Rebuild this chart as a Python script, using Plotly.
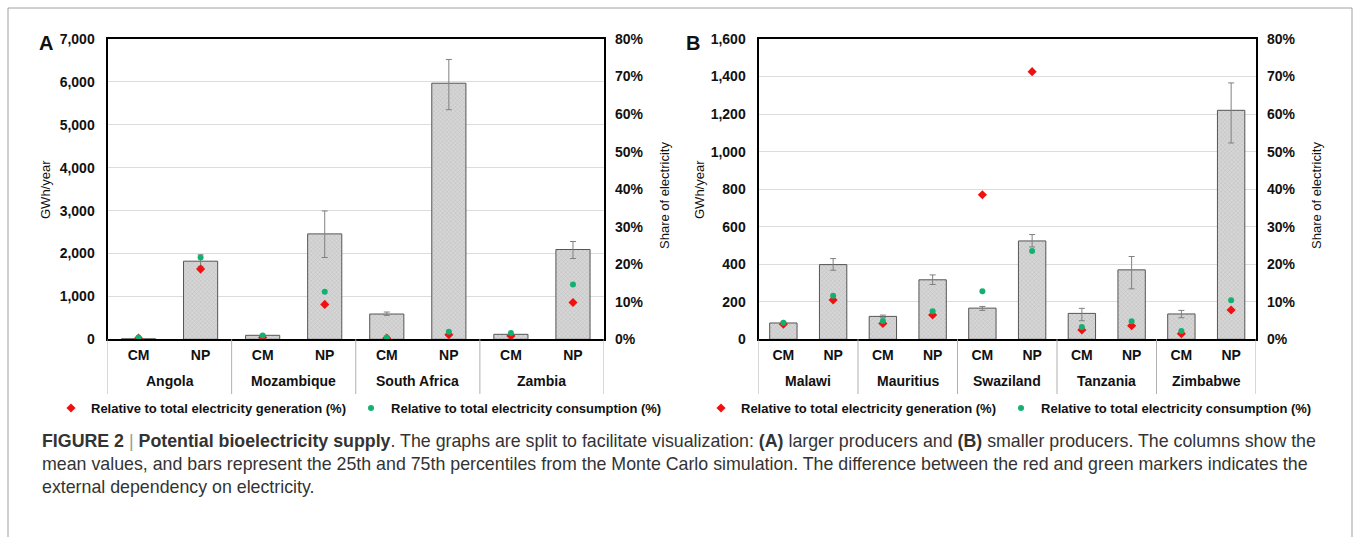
import plotly.graph_objects as go

# ---------------- data ----------------
countries_a = ["Angola", "Mozambique", "South Africa", "Zambia"]
countries_b = ["Malawi", "Mauritius", "Swaziland", "Tanzania", "Zimbabwe"]
types = ["CM", "NP"]

# Panel A (GWh/year): order CM, NP per country
mean_a = [12, 1821, 93, 2457, 589, 5969, 116, 2093]
p25_a = [8, 1700, 85, 1907, 558, 5352, 105, 1884]
p75_a = [16, 1970, 100, 2992, 636, 6523, 125, 2279]
gen_a = [0.3, 18.7, 0.5, 9.3, 0.3, 1.2, 0.9, 9.8]      # % of total generation
cons_a = [0.5, 21.8, 1.0, 12.7, 0.5, 2.0, 1.7, 14.6]    # % of total consumption

# Panel B
mean_b = [87, 398, 122, 317, 166, 524, 138, 370, 135, 1220]
p25_b = [82, 368, 115, 292, 154, 492, 99, 269, 115, 1046]
p75_b = [92, 430, 129, 343, 175, 558, 165, 441, 154, 1366]
gen_b = [4.0, 10.5, 4.2, 6.5, 38.5, 71.3, 2.5, 3.6, 1.5, 7.8]
cons_b = [4.4, 11.6, 4.9, 7.5, 12.8, 23.5, 3.3, 4.8, 2.2, 10.4]

gen_name = "Relative to total electricity generation (%)"
cons_name = "Relative to total electricity consumption (%)"

W, H = 1354, 537
FONT = "Liberation Sans, Arial, sans-serif"


def px_x(p):
    return p / W


def px_y(p):
    return 1 - p / H


fig = go.Figure()

panels = [
    dict(countries=countries_a, mean=mean_a, p25=p25_a, p75=p75_a, gen=gen_a, cons=cons_a,
         xa="x", ya="y", ya2="y2", legend="legend"),
    dict(countries=countries_b, mean=mean_b, p25=p25_b, p75=p75_b, gen=gen_b, cons=cons_b,
         xa="x2", ya="y3", ya2="y4", legend="legend2"),
]

shapes = []
ann = []
for p in panels:
    n = len(p["countries"]) * len(types)
    x = list(range(n))
    fig.add_trace(go.Bar(
        x=x, y=p["mean"], xaxis=p["xa"], yaxis=p["ya"], showlegend=False,
        marker=dict(color="#cfcfcf",
                    line=dict(color="#555555", width=1),
                    pattern=dict(shape="x", fgcolor="#9a9a9a", bgcolor="#d6d6d6", size=3, solidity=0.25)),
        error_y=dict(type="data", symmetric=False,
                     array=[hi - m for hi, m in zip(p["p75"], p["mean"])],
                     arrayminus=[m - lo for lo, m in zip(p["p25"], p["mean"])],
                     color="#808080", thickness=1, width=3),
    ))
    fig.add_trace(go.Scatter(
        x=x, y=p["gen"], xaxis=p["xa"], yaxis=p["ya2"], mode="markers", name=gen_name,
        legend=p["legend"],
        marker=dict(symbol="diamond", size=7, color="#f01010"),
    ))
    fig.add_trace(go.Scatter(
        x=x, y=p["cons"], xaxis=p["xa"], yaxis=p["ya2"], mode="markers", name=cons_name,
        legend=p["legend"],
        marker=dict(symbol="circle", size=6, color="#14b072"),
    ))
    k = len(types)
    for i, c in enumerate(p["countries"]):
        ann.append(dict(text=f"<b>{c}</b>", x=i * k + (k - 1) / 2, y=px_y(381), xref=p["xa"], yref="paper",
                        xanchor="center", yanchor="middle",
                        showarrow=False, font=dict(family=FONT, size=14, color="#111111")))
    for i in range(len(p["countries"]) + 1):
        shapes.append(dict(type="line", xref=p["xa"], yref="paper", x0=i * k - 0.5, x1=i * k - 0.5,
                           y0=px_y(339.3), y1=px_y(394), line=dict(color="#b0b0b0", width=1)))

tickfont = dict(family=FONT, size=14, color="#111111", weight="bold")
ydom = [px_y(339.3), px_y(39)]

xcommon = dict(showline=True, linecolor="black", linewidth=2, mirror=True, automargin=False,
               ticks="", tickfont=tickfont, showgrid=False, zeroline=False, fixedrange=True,
               ticklabelstandoff=2)
ycommon = dict(showline=True, linecolor="black", linewidth=2, mirror=True, ticks="", automargin=False,
               showgrid=True, gridcolor="#dcdcdc", gridwidth=1, zeroline=False,
               tickfont=tickfont, ticklabelstandoff=8)
y2common = dict(side="right", range=[0, 80], dtick=10, ticksuffix="%", showgrid=False, automargin=False,
                zeroline=False, showline=False, ticks="", tickfont=tickfont, ticklabelstandoff=10)

na = len(countries_a) * len(types)
nb = len(countries_b) * len(types)

fig.update_layout(
    width=W, height=H,
    margin=dict(l=0, r=0, t=0, b=0, autoexpand=False),
    paper_bgcolor="white", plot_bgcolor="white",
    bargap=0.45,
    font=dict(family=FONT, color="#111111"),
    xaxis=dict(domain=[px_x(107.5), px_x(604)], anchor="y", range=[-0.5, na - 0.5],
               tickvals=list(range(na)), ticktext=[t for _ in countries_a for t in types], **xcommon),
    yaxis=dict(domain=ydom, anchor="x", range=[0, 7000], dtick=1000, tickformat=",", **ycommon),
    yaxis2=dict(domain=ydom, anchor="x", overlaying="y", **y2common),
    xaxis2=dict(domain=[px_x(758.5), px_x(1256)], anchor="y3", range=[-0.5, nb - 0.5],
                tickvals=list(range(nb)), ticktext=[t for _ in countries_b for t in types], **xcommon),
    yaxis3=dict(domain=ydom, anchor="x2", range=[0, 1600], dtick=200, tickformat=",", **ycommon),
    yaxis4=dict(domain=ydom, anchor="x2", overlaying="y3", **y2common),
    legend=dict(orientation="h", x=px_x(359), xanchor="center", y=px_y(408), yanchor="middle",
                font=dict(family=FONT, size=13, color="#111111", weight="bold"),
                itemwidth=30, bgcolor="rgba(0,0,0,0)", tracegroupgap=0),
    legend2=dict(orientation="h", x=px_x(1009), xanchor="center", y=px_y(408), yanchor="middle",
                 font=dict(family=FONT, size=13, color="#111111", weight="bold"),
                 itemwidth=30, bgcolor="rgba(0,0,0,0)", tracegroupgap=0),
)

for letter, xp in [("A", 46), ("B", 693)]:
    ann.append(dict(text=f"<b>{letter}</b>", x=px_x(xp), y=px_y(43), xref="paper", yref="paper",
                    xanchor="center", yanchor="middle",
                    showarrow=False, font=dict(family=FONT, size=20, color="#111111")))
for xp in [46, 700]:
    ann.append(dict(text="GWh/year", textangle=-90, x=px_x(xp), y=px_y(190), xref="paper", yref="paper",
                    xanchor="center", yanchor="middle",
                    showarrow=False, font=dict(family=FONT, size=13, color="#111111")))
for xp in [664, 1316]:
    ann.append(dict(text="Share of electricity", textangle=-90, x=px_x(xp), y=px_y(196), xref="paper",
                    yref="paper", xanchor="center", yanchor="middle",
                    showarrow=False, font=dict(family=FONT, size=13, color="#111111")))

caption = ("<b>FIGURE 2</b> <span style='color:#999'>|</span> <b>Potential bioelectricity supply</b>. "
           "The graphs are split to facilitate visualization: <b>(A)</b> larger producers and <b>(B)</b> "
           "smaller producers. The columns show the<br>"
           "mean values, and bars represent the 25th and 75th percentiles from the Monte Carlo simulation. "
           "The difference between the red and green markers indicates the<br>"
           "external dependency on electricity.")
ann.append(dict(text=caption, x=px_x(40), y=px_y(429), xref="paper", yref="paper", xanchor="left",
                yanchor="top", align="left", showarrow=False,
                font=dict(family=FONT, size=17.8, color="#333333")))

shapes.append(dict(type="rect", xref="paper", yref="paper", x0=px_x(8), x1=px_x(1352), y0=-0.2, y1=px_y(8),
                   line=dict(color="#a0a0a0", width=1), fillcolor="rgba(0,0,0,0)", layer="below"))

fig.update_layout(annotations=ann, shapes=shapes)

fig.write_html("out.html")
